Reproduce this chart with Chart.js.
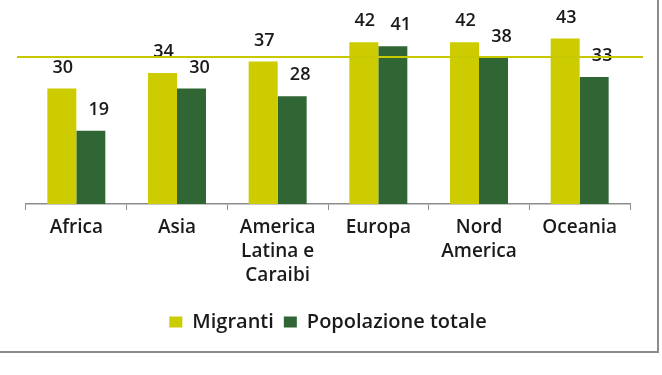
<!DOCTYPE html>
<html lang="it">
<head>
<meta charset="UTF-8">
<title>Migranti e popolazione totale</title>
<script src="https://cdn.jsdelivr.net/npm/chart.js"></script>
<style>
    body { margin: 0; background: #fff; overflow: hidden; }
    #cornice {
        position: absolute; left: -3px; top: -3px;
        width: 662px; height: 356px;
        border: 2px solid #8c8c8c; box-sizing: border-box;
    }
    #grafico { position: absolute; left: 0; top: 0; }
</style>
</head>
<body>
<div id="cornice"></div>
<canvas id="grafico" width="662" height="375"></canvas>

<script>
    // dati
    const categorie = [['Africa'], ['Asia'], ['America', 'Latina e', 'Caraibi'], ['Europa'], ['Nord', 'America'], ['Oceania']];
    const migranti = [30, 34, 37, 42, 42, 43];
    const popolazioneTotale = [19, 30, 28, 41, 38, 33];
    const lineaRiferimento = 38.2;

    const giallo = '#cccc00';
    const verde = '#2f6633';

    // etichette sopra le barre
    const etichetteValori = {
        id: 'etichetteValori',
        afterDatasetsDraw(chart) {
            const ctx = chart.ctx;
            ctx.save();
            ctx.font = '600 18px "Open Sans"';
            ctx.fillStyle = '#1a1a1a';
            ctx.textAlign = 'center';
            ctx.textBaseline = 'middle';
            chart.data.datasets.forEach((ds, i) => {
                const dx = i === 0 ? 1 : 8;
                chart.getDatasetMeta(i).data.forEach((bar, j) => {
                    ctx.fillText(ds.data[j], bar.x + dx, bar.y - 21);
                });
            });
            ctx.restore();
        }
    };

    // linea orizzontale di riferimento
    const lineaOrizzontale = {
        id: 'lineaOrizzontale',
        afterDraw(chart) {
            const ctx = chart.ctx;
            const area = chart.chartArea;
            const y = chart.scales.y.getPixelForValue(lineaRiferimento);
            ctx.save();
            ctx.strokeStyle = '#c8c800';
            ctx.lineWidth = 2;
            ctx.beginPath();
            ctx.moveTo(area.left - 9, y);
            ctx.lineTo(area.right + 13, y);
            ctx.stroke();
            ctx.restore();
        }
    };

    const ctx = document.getElementById('grafico').getContext('2d');
    const grafico = new Chart(ctx, {
        type: 'bar',
        data: {
            labels: categorie,
            datasets: [
                {
                    label: 'Migranti',
                    data: migranti,
                    backgroundColor: giallo,
                    barPercentage: 1,
                    categoryPercentage: 0.576
                },
                {
                    label: 'Popolazione totale',
                    data: popolazioneTotale,
                    backgroundColor: verde,
                    barPercentage: 1,
                    categoryPercentage: 0.576
                }
            ]
        },
        options: {
            responsive: false,
            animation: false,
            layout: {
                padding: { left: 26, right: 32, top: 11.5, bottom: 33 }
            },
            plugins: {
                tooltip: { enabled: false },
                legend: {
                    position: 'bottom',
                    labels: {
                        boxWidth: 13,
                        boxHeight: 11,
                        padding: 10,
                        color: '#1a1a1a',
                        font: { family: 'Open Sans', size: 20, weight: '600' }
                    }
                }
            },
            scales: {
                x: {
                    grid: {
                        offset: true,
                        drawOnChartArea: false,
                        drawTicks: true,
                        tickLength: 6,
                        color: '#8c8c8c'
                    },
                    border: { display: true, color: '#8c8c8c', width: 1.5 },
                    ticks: {
                        color: '#1a1a1a',
                        padding: 6,
                        maxRotation: 0,
                        autoSkip: false,
                        font: { family: 'Open Sans', size: 19, weight: '600', lineHeight: 1.25 }
                    },
                    afterFit: (scale) => {
                        scale.height = 98;
                    }
                },
                y: {
                    display: false,
                    min: 0,
                    max: 50
                }
            }
        },
        plugins: [etichetteValori, lineaOrizzontale]
    });
</script>
</body>
</html>
